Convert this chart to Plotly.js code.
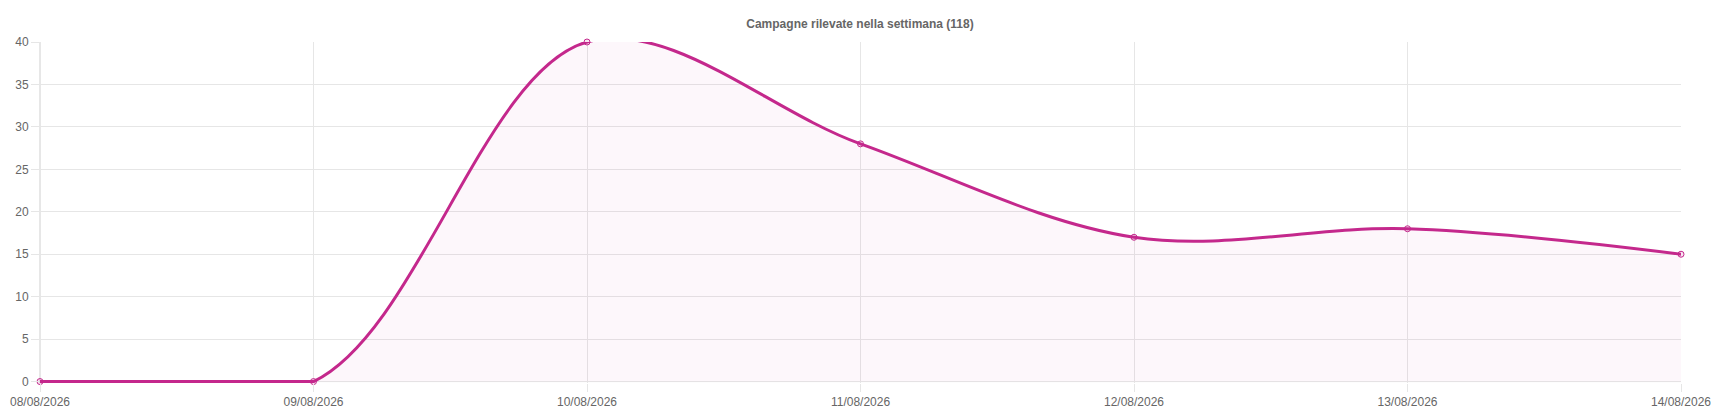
<!DOCTYPE html>
<html>
<head>
<meta charset="utf-8">
<script src="https://cdn.plot.ly/plotly-3.0.1.min.js"></script>
<style>html,body{margin:0;padding:0;background:#fff;}#chart{width:1720px;height:417px;}</style>
</head>
<body>
<div id="chart"></div>
<script>
var dates = ["08/08/2026","09/08/2026","10/08/2026","11/08/2026","12/08/2026","13/08/2026","14/08/2026"];
var campagne = [0, 0, 40, 28, 17, 18, 15];
var yTicks = [0, 5, 10, 15, 20, 25, 30, 35, 40];
var chartTitle = "Campagne rilevate nella settimana (118)";

var lineColor = "rgb(196,40,140)";
var fillColor = "rgba(196,40,140,0.035)";

// flat stretch at zero drawn straight (the smoothed curve is kept inside the chart area)
var firstRise = campagne.findIndex(function(v, i){ return i > 0 && v !== 0; }) - 1;
if (firstRise < 0) firstRise = 0;
var flatX = dates.slice(0, firstRise + 1), flatY = campagne.slice(0, firstRise + 1);

var traces = [
  {
    x: dates, y: campagne, type: "scatter", mode: "lines",
    line: {color: lineColor, width: 3, shape: "spline", smoothing: 1},
    fill: "tozeroy", fillcolor: fillColor, hoverinfo: "skip", showlegend: false
  },
  {
    x: flatX, y: flatY, type: "scatter", mode: "lines",
    line: {color: lineColor, width: 3.2}, hoverinfo: "skip", showlegend: false
  },
  {
    x: dates, y: campagne, type: "scatter", mode: "markers",
    marker: {size: 6, color: "rgba(196,40,140,0.12)", line: {color: lineColor, width: 1}},
    cliponaxis: false, showlegend: false
  }
];

var layout = {
  width: 1720, height: 417,
  margin: {l: 40, r: 39, t: 42, b: 34},
  paper_bgcolor: "#fff", plot_bgcolor: "#fff",
  font: {family: "Liberation Sans, Arial, sans-serif", size: 12, color: "#666"},
  title: {
    text: "<b>" + chartTitle + "</b>",
    x: 0.5, xanchor: "center", y: 1 - 24/417, yanchor: "middle", yref: "container",
    font: {family: "Liberation Sans, Arial, sans-serif", size: 12, color: "#666"}
  },
  xaxis: {
    type: "category", categoryorder: "array", categoryarray: dates,
    range: [0, dates.length - 1],
    showgrid: true, gridcolor: "#e6e6e6", gridwidth: 1,
    ticks: "outside", ticklen: 8, tickcolor: "#e6e6e6", tickwidth: 1,
    showline: false, zeroline: false,
    tickfont: {size: 12, color: "#666"}, fixedrange: true
  },
  yaxis: {
    range: [-0.17, 40],
    tickvals: yTicks, ticktext: yTicks.map(String),
    showgrid: true, gridcolor: "#e6e6e6", gridwidth: 1,
    ticks: "outside", ticklen: 8, tickcolor: "#e6e6e6", tickwidth: 1,
    showline: false, zeroline: false,
    tickfont: {size: 12, color: "#666"}, fixedrange: true
  },
  shapes: [
    {type: "line", xref: "paper", yref: "y", x0: 0, x1: 1, y0: 0, y1: 0, line: {color: "#c8c8c8", width: 1}, layer: "below"},
    {type: "line", xref: "paper", yref: "paper", x0: 0, x1: 0, y0: 0, y1: 1, line: {color: "#cfcfcf", width: 1}, layer: "below"}
  ]
};

Plotly.newPlot("chart", traces, layout, {displayModeBar: false, staticPlot: true});
</script>
</body>
</html>
